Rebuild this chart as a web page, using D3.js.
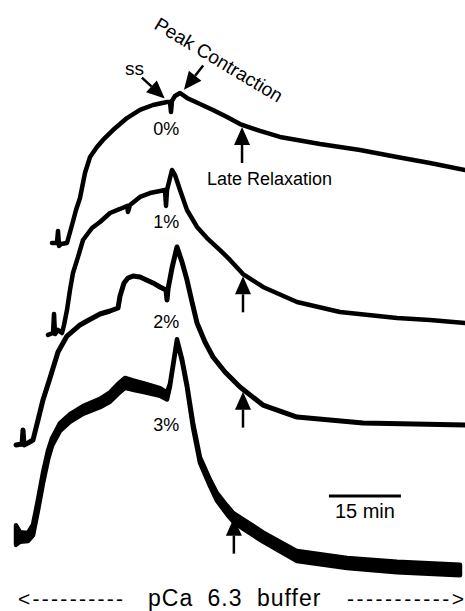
<!DOCTYPE html>
<html>
<head>
<meta charset="utf-8">
<script src="https://cdn.jsdelivr.net/npm/d3@7"></script>
<style>
  body { margin: 0; background: #fff; }
  svg { display: block; }
  text { font-family: "Liberation Sans", Arial, sans-serif; fill: #000; }
</style>
</head>
<body>
<div id="chart"></div>
<script>
// traces: time in min, force relative to the start of each trace
var traceLabels = ["0%", "1%", "2%", "3%"]

var time0 = [7.71, 8.75, 8.96, 9.17, 9.58, 10.83, 11.88, 12.71, 13.54, 14.58, 15.63, 17.08, 18.33, 20.42, 23.33, 26.04, 28.75, 31.67, 32.29, 32.5, 32.71, 33.33, 34.38, 35.83, 38.54, 41.25, 44.17, 46.88, 51.04, 55.2, 63.54, 71.88, 79.58, 86.46, 93.75]
var force0 = [0, 0, 8, -2, -0.7, 0, 12, 22, 30, 46.7, 57.3, 64, 68.7, 75.3, 83.3, 88.7, 92, 94, 94, 87.3, 94.7, 98, 100, 96.7, 92.7, 88.7, 84, 79.3, 74.7, 70.7, 66, 62, 57.3, 53.3, 48.7]

var time1 = [6.88, 7.92, 8.13, 8.33, 8.96, 9.79, 10.21, 10.83, 11.46, 12.08, 13.13, 14.17, 16.04, 17.71, 19.79, 21.88, 23.33, 23.54, 23.96, 26.04, 28.13, 30.21, 31.25, 31.46, 31.67, 32.29, 32.71, 33.33, 34.38, 35.83, 37.92, 40, 42.71, 44.79, 47.5, 51.67, 58.75, 67.7, 79.58, 86.46, 93.75]
var force1 = [-1.3, 0, 12.7, -0.7, 2, 0, 5.3, 15.3, 28.7, 40, 50.7, 62, 70, 74, 80, 82.7, 84.7, 80.7, 85.3, 90.7, 93.3, 94.7, 95.3, 84.7, 95.3, 103.3, 108.7, 105.3, 95.3, 82, 70.7, 63.3, 55.3, 48.7, 39.3, 30.7, 20.7, 14, 10, 8.7, 6.7]

var time2 = [0.21, 1.46, 1.67, 1.88, 2.71, 3.75, 4.79, 5.83, 7.29, 8.96, 10.83, 13.54, 15, 17.71, 19.79, 21.46, 21.88, 22.71, 23.54, 24.58, 26.04, 28.75, 30.21, 31.46, 31.67, 31.88, 32.71, 33.75, 34.79, 35.83, 36.88, 37.92, 39.58, 41.25, 43.75, 46.88, 51.67, 58.75, 72.5, 93.75]
var force2 = [-1.3, -0.7, 8.7, -1.3, 0, 2, 15.3, 28.7, 43.3, 60.7, 71.3, 78.7, 81.3, 86, 88, 90, 98, 106.7, 110, 111.3, 110.7, 106.7, 104, 102, 95.3, 102.7, 116.7, 130.7, 120.7, 108.7, 94, 80, 67.3, 57.3, 47.3, 37.3, 25.3, 17.3, 13.3, 12]

var time3 = [0.21, 1.04, 2.71, 3.75, 4.79, 5.83, 6.88, 7.71, 9.38, 11.46, 14.17, 17.71, 19.79, 21.46, 22.92, 24.58, 27.08, 30.21, 31.67, 32.29, 33.75, 34.79, 35.83, 37.08, 38.54, 40.63, 42.08, 44.17, 45.42, 47.5, 51.67, 58.75, 69.17, 79.58, 92.7]
var force3 = [1.3, 0, 0, 4.7, 21.3, 39.3, 54.7, 63.3, 73.3, 79.3, 84.7, 89.3, 93.3, 98.7, 102.7, 101.3, 99.3, 96.7, 94, 101.3, 131.3, 118, 100.7, 74.7, 51.3, 36, 26.7, 18, 13.3, 8.7, 0, -12.7, -17.3, -20, -22]
// half width of the noise band on the 3% trace
var noise3 = [6.5, 3.2, 2.7, 3.5, 3.5, 3.5, 3, 2.5, 2.6, 2.6, 2.6, 2.8, 3.1, 3.3, 3.3, 3.1, 2.9, 2.6, 2.3, 0.8, 0.5, 0.8, 1, 1.5, 1.8, 2.1, 2.5, 2.8, 2.8, 3.1, 3.1, 3.3, 3.3, 3.5, 3.5]

var lateRelaxTime = [47.3, 47.5, 47.5, 45.6]
var ssTime = 31.2
var peakTime = 35.2
var scaleBarMin = 15

// layout
var width = 465
var height = 611
var baseline = [243, 333, 443, 537]
var labelLevel = [72, 70, 77, 71]
var strokes = [4.5, 4.5, 5]

var svg = d3.select("#chart")
  .append("svg")
  .attr("width", width)
  .attr("height", height)

svg.append("rect")
  .attr("width", width)
  .attr("height", height)
  .attr("fill", "#fff")

var x = d3.scaleLinear().domain([0, 93.75]).range([15, 465])

// one force scale per trace, stacked down the page
var yScales = baseline.map(function (b) {
  return d3.scaleLinear().domain([0, 100]).range([b, b - 150])
})

var traces = [
  { t: time0, f: force0 },
  { t: time1, f: force1 },
  { t: time2, f: force2 },
  { t: time3, f: force3, n: noise3 }
]

function valueAt(tr, t) {
  var i = d3.bisectLeft(tr.t, t)
  if (i <= 0) return tr.f[0]
  if (i >= tr.t.length) return tr.f[tr.f.length - 1]
  var a = (t - tr.t[i - 1]) / (tr.t[i] - tr.t[i - 1])
  return tr.f[i - 1] + a * (tr.f[i] - tr.f[i - 1])
}

traces.forEach(function (tr, k) {
  var y = yScales[k]
  var pts = tr.t.map(function (t, i) { return i })
  if (tr.n) {
    var area = d3.area()
      .x(function (i) { return x(tr.t[i]) })
      .y0(function (i) { return y(tr.f[i] - tr.n[i]) })
      .y1(function (i) { return y(tr.f[i] + tr.n[i]) })
    svg.append("path")
      .attr("d", area(pts))
      .attr("fill", "#000")
      .attr("stroke", "#000")
      .attr("stroke-width", 4.5)
      .attr("stroke-linejoin", "round")
  } else {
    var line = d3.line()
      .x(function (i) { return x(tr.t[i]) })
      .y(function (i) { return y(tr.f[i]) })
    svg.append("path")
      .attr("d", line(pts))
      .attr("fill", "none")
      .attr("stroke", "#000")
      .attr("stroke-width", strokes[k])
      .attr("stroke-linejoin", "round")
      .attr("stroke-linecap", "round")
  }

  // concentration label under the trace
  svg.append("text")
    .attr("x", x(31.5))
    .attr("y", y(labelLevel[k]))
    .attr("text-anchor", "middle")
    .style("font-size", "18px")
    .text(traceLabels[k])
})

// filled arrow: tip point plus direction (dx, dy) from tail to tip
function arrow(tx, ty, dx, dy, len) {
  var m = Math.sqrt(dx * dx + dy * dy)
  var ux = dx / m, uy = dy / m
  var headLen = 18, headW = 8
  var bx = tx - ux * headLen, by = ty - uy * headLen
  svg.append("line")
    .attr("x1", tx - ux * len).attr("y1", ty - uy * len)
    .attr("x2", bx).attr("y2", by)
    .attr("stroke", "#000")
    .attr("stroke-width", 2.5)
  svg.append("path")
    .attr("d", "M" + tx + "," + ty +
      "L" + (bx - uy * headW) + "," + (by + ux * headW) +
      "L" + (bx + uy * headW) + "," + (by - ux * headW) + "Z")
    .attr("fill", "#000")
}

// late relaxation arrows, pointing up at each trace
lateRelaxTime.forEach(function (t, k) {
  var v = valueAt(traces[k], t) - (traces[k].n ? 0 : 1.5)
  arrow(x(t), yScales[k](v), 0, -1, 36)
})

// ss and peak contraction arrows on the 0% trace
arrow(x(ssTime), yScales[0](valueAt(traces[0], ssTime)) - 4, 23, 21, 31)
arrow(x(peakTime), yScales[0](valueAt(traces[0], peakTime)) - 6, -19, 24, 31)

svg.append("text")
  .attr("x", 125).attr("y", 75)
  .style("font-size", "19px")
  .text("ss")

svg.append("text")
  .attr("transform", "translate(153,28) rotate(31)")
  .style("font-size", "19px")
  .text("Peak Contraction")

svg.append("text")
  .attr("x", 207).attr("y", 185)
  .style("font-size", "18px")
  .text("Late Relaxation")

// 15 min scale bar
var barStart = 65.4
svg.append("line")
  .attr("x1", x(barStart)).attr("x2", x(barStart + scaleBarMin))
  .attr("y1", 496).attr("y2", 496)
  .attr("stroke", "#000")
  .attr("stroke-width", 3)

svg.append("text")
  .attr("x", x(barStart + scaleBarMin / 2)).attr("y", 518)
  .attr("text-anchor", "middle")
  .style("font-size", "20px")
  .text(scaleBarMin + " min")

// buffer label along the bottom
var bottom = [
  { text: "<----------", x0: 18, len: 105 },
  { text: "----------->", x0: 347, len: 117 }
]
svg.selectAll("text.dash")
  .data(bottom)
  .enter()
  .append("text")
  .attr("class", "dash")
  .attr("x", function (d) { return d.x0 })
  .attr("y", 606)
  .attr("textLength", function (d) { return d.len })
  .attr("lengthAdjust", "spacing")
  .style("font-size", "21px")
  .text(function (d) { return d.text })

svg.append("text")
  .attr("x", 148).attr("y", 606)
  .style("font-size", "23px")
  .style("letter-spacing", "1px")
  .style("word-spacing", "7px")
  .text("pCa 6.3 buffer")
</script>
</body>
</html>
